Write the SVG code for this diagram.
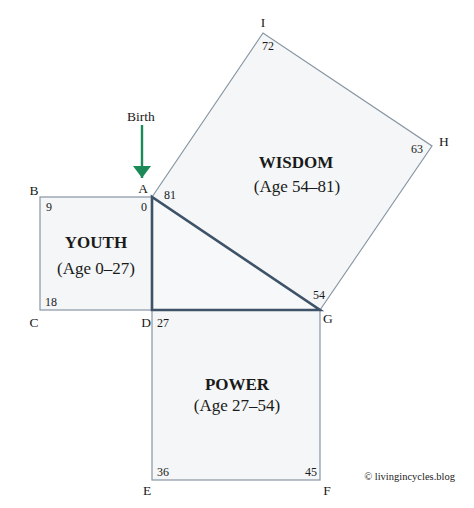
<svg xmlns="http://www.w3.org/2000/svg" width="474" height="508" viewBox="0 0 474 508">
<defs>
<style>
.sq{fill:#f4f6f7;stroke:#8795a3;stroke-width:1.2}
.tri{fill:#f6f8f9;stroke:#3e5368;stroke-width:2.6;stroke-linejoin:miter}
text{font-family:"Liberation Serif","DejaVu Serif",serif;fill:#1a1a1a;font-variant-numeric:oldstyle-nums}
.lbl{font-size:13.5px}
.num{font-size:12px}
.ttl{font-size:17px;font-weight:bold;text-anchor:middle}
.age{font-size:17px;text-anchor:middle}
</style>
<marker id="ah" viewBox="0 0 12 18" refX="12" refY="9" markerWidth="12" markerHeight="18" markerUnits="userSpaceOnUse" orient="auto">
<path d="M0,0 L12,9 L0,18 Z" fill="#1c8a58"/>
</marker>
</defs>
<rect width="474" height="508" fill="#ffffff"/>
<g id="youth">
<rect class="sq" x="40" y="197" width="112" height="113"/>
<text class="ttl" x="96" y="248">YOUTH</text>
<text class="age" x="96" y="274">(Age 0–27)</text>
<text class="num" x="46" y="211">9</text>
<text class="num" x="45" y="306">18</text>
<text class="num" x="141" y="211">0</text>
</g>
<g id="power">
<rect class="sq" x="152" y="310" width="168" height="170"/>
<text class="ttl" x="237" y="390">POWER</text>
<text class="age" x="237" y="411">(Age 27–54)</text>
<text class="num" x="157" y="476">36</text>
<text class="num" x="317" y="476" text-anchor="end">45</text>
<text class="num" x="157" y="327">27</text>
</g>
<g id="wisdom">
<polygon class="sq" points="152,197 263,33 432,146 320,310"/>
<text class="ttl" x="296" y="168">WISDOM</text>
<text class="age" x="297" y="192">(Age 54–81)</text>
<text class="num" x="268" y="50" text-anchor="middle">72</text>
<text class="num" x="417" y="153" text-anchor="middle">63</text>
<text class="num" x="164" y="199">81</text>
<text class="num" x="313" y="299">54</text>
</g>
<g id="triangle">
<polygon class="tri" points="152,197 152,310 320,310"/>
</g>
<g id="labels">
<text class="lbl" x="263" y="27" text-anchor="middle">I</text>
<text class="lbl" x="439" y="146">H</text>
<text class="lbl" x="143" y="193" text-anchor="middle">A</text>
<text class="lbl" x="34" y="195" text-anchor="middle">B</text>
<text class="lbl" x="34" y="327" text-anchor="middle">C</text>
<text class="lbl" x="146" y="327" text-anchor="middle">D</text>
<text class="lbl" x="323" y="323">G</text>
<text class="lbl" x="147" y="495" text-anchor="middle">E</text>
<text class="lbl" x="327" y="495" text-anchor="middle">F</text>
</g>
<g id="birth">
<text class="lbl" x="141" y="121" text-anchor="middle">Birth</text>
</g>
<g id="connectors">
<line x1="142" y1="125" x2="142" y2="178" stroke="#1c8a58" stroke-width="2.4" marker-end="url(#ah)"/>
</g>
<text x="455" y="480" font-size="10.5" text-anchor="end">© livingincycles.blog</text>
</svg>
